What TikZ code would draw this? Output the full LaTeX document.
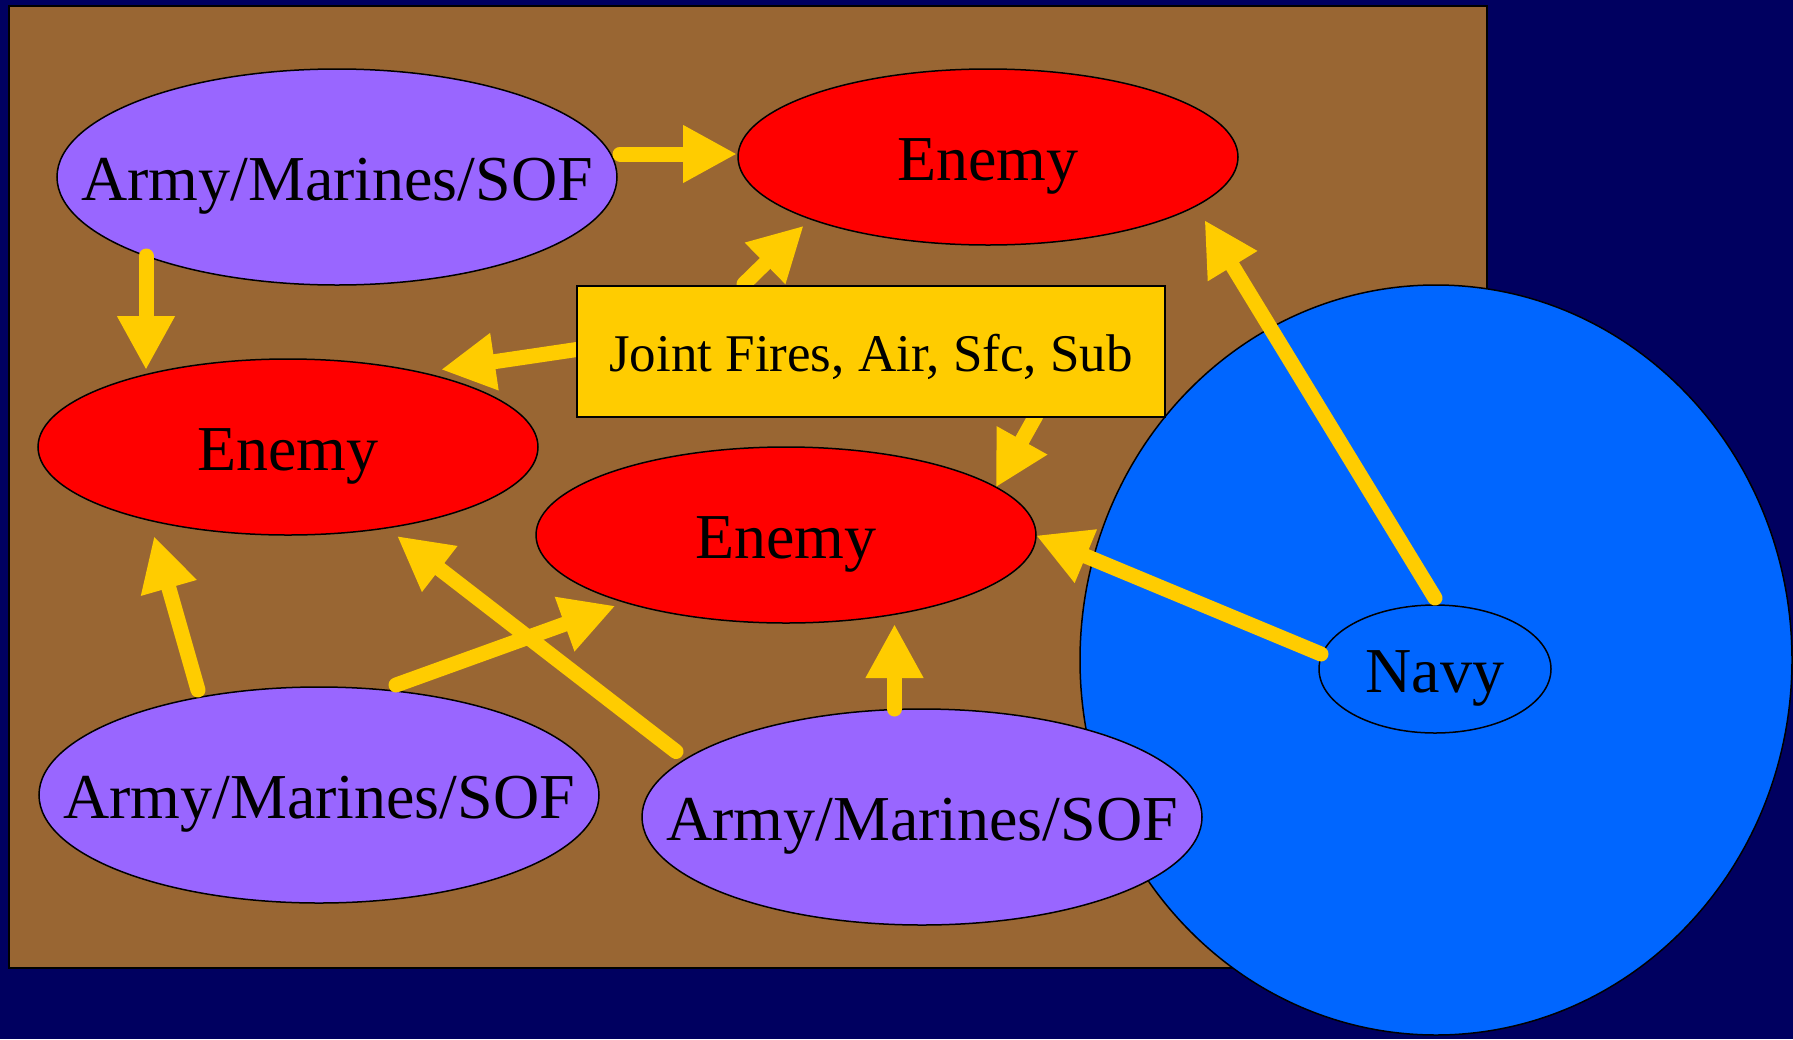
\documentclass[tikz,border=0pt]{standalone}
\usepackage{fontspec}
\setmainfont{Liberation Serif}
\usetikzlibrary{shapes.geometric,arrows.meta,calc}
\definecolor{navybg}{RGB}{0,0,96}
\definecolor{ground}{RGB}{153,102,51}
\definecolor{friend}{RGB}{153,102,255}
\definecolor{foe}{RGB}{255,0,0}
\definecolor{firecol}{RGB}{255,204,0}
\definecolor{seacol}{RGB}{0,102,255}
\newcommand{\mylbl}[1]{\makebox[0pt]{\raisebox{-0.37em}[0pt][0pt]{#1}}}
\pgfdeclarelayer{front}
\pgfsetlayers{main,front}
\begin{document}
\begin{tikzpicture}[x=0.5pt,y=-0.5pt,
  ell/.style={ellipse, draw=black, line width=0.75pt, inner sep=0pt, outer sep=0pt,
              font=\fontsize{32}{36}\selectfont},
  friendly/.style={ell, fill=friend, minimum width=280pt, minimum height=108pt},
  enemy/.style={ell, fill=foe, minimum width=250pt, minimum height=88pt},
  seastyle/.style={ell, fill=seacol, minimum width=356pt, minimum height=375pt},
  navystyle/.style={ell, fill=seacol, minimum width=116pt, minimum height=64pt},
  firebox/.style={rectangle, draw=black, line width=0.75pt, fill=firecol, inner sep=0pt,
              minimum width=294pt, minimum height=65.5pt, font=\fontsize{26.5}{30}\selectfont},
  arr/.style={draw=firecol, line width=7.5pt, line cap=round,
              -{Triangle[length=27pt,width=27pt]}},
  ]
\useasboundingbox (0,0) rectangle (1793,1039);
\fill[navybg] (0,0) rectangle (1793,1039);
\draw[fill=ground, draw=black, line width=0.75pt] (9,6) rectangle (1487,968);

\node[seastyle] (sea) at (1436,660) {};

\node[enemy] (e1) at (988,157) {\mylbl{Enemy}};
\node[enemy] (e2) at (288,447) {\mylbl{Enemy}};
\node[enemy] (e3) at (786,535) {\mylbl{Enemy}};
\node[friendly] (a1) at (337,177) {\mylbl{Army/Marines/SOF}};
\node[friendly] (a2) at (319,795) {\mylbl{Army/Marines/SOF}};
\node[friendly] (a3) at (922,817) {\mylbl{Army/Marines/SOF}};
\node[navystyle] (navy) at (1435,669) {\mylbl{Navy}};

\begin{pgfonlayer}{front}
\node[firebox] (jf) at (871,351.5) {\mylbl{Joint Fires, Air, Sfc, Sub}};
\end{pgfonlayer}

\draw[arr] ($(a1.center)+(283,-23)$) -- ($(e1.center)+(-251,-3)$);
\draw[arr] ($(a1.center)+(-191,79)$) -- ($(e2.center)+(-142,-77)$);
\draw[arr] ($(jf.center)+(-127,-67.5)$) -- ($(e1.center)+(-184.3,68.7)$);
\draw[arr] ($(jf.center)+(-291,-2.5)$) -- ($(e2.center)+(153,-77.4)$);
\draw[arr] ($(jf.center)+(165,64)$) -- ($(e3.center)+(209.7,-47.5)$);
\draw[arr] ($(navy.center)+(0,-71)$) -- ($(e1.center)+(216.5,63)$);
\draw[arr] ($(navy.center)+(-114,-15)$) -- ($(e3.center)+(250,0.4)$);
\draw[arr] ($(a2.center)+(-121,-105)$) -- ($(e2.center)+(-134,89)$);
\draw[arr] ($(a2.center)+(77,-110)$) -- ($(e3.center)+(-170.6,70.8)$);
\draw[arr] ($(a3.center)+(-246,-65.5)$) -- ($(e2.center)+(109,89)$);
\draw[arr] ($(a3.center)+(-27.5,-108)$) -- ($(e3.center)+(108.5,89)$);
\end{tikzpicture}
\end{document}
